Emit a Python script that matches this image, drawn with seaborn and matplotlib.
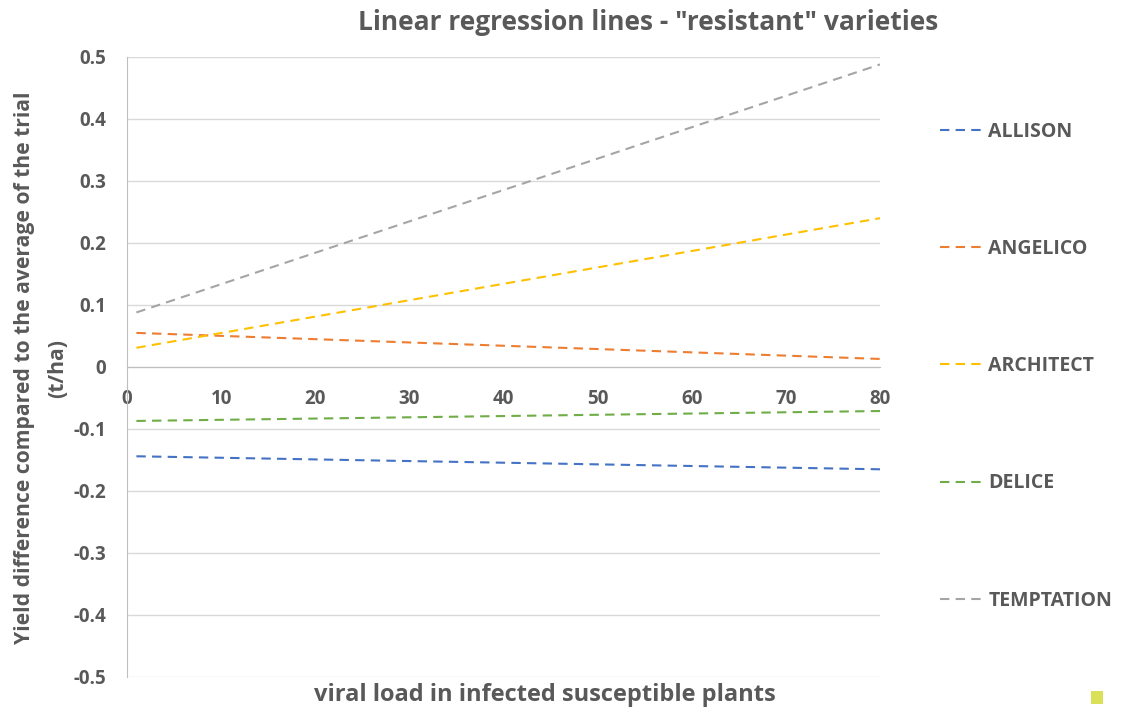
import pandas as pd
import seaborn as sns
import matplotlib.pyplot as plt
from matplotlib.patches import Rectangle

# regression line endpoints
x_range = [1, 80]
varieties = ['ALLISON', 'ANGELICO', 'ARCHITECT', 'DELICE', 'TEMPTATION']
y_start = [-0.144, 0.055, 0.031, -0.087, 0.088]
y_end = [-0.165, 0.013, 0.240, -0.071, 0.488]
colors = ['#4472C4', '#ED7D31', '#FFC000', '#70AD47', '#A5A5A5']

rows = []
for name, y0, y1 in zip(varieties, y_start, y_end):
    rows.append({'Variety': name, 'x': x_range[0], 'y': y0})
    rows.append({'Variety': name, 'x': x_range[1], 'y': y1})
df = pd.DataFrame(rows)

sns.set_style("white")
plt.rcParams['font.family'] = ['Open Sans', 'DejaVu Sans']
text_grey = '#595959'
axis_grey = '#BFBFBF'
grid_grey = '#D9D9D9'

W, H = 1122, 710
fig = plt.figure(figsize=(W / 100, H / 100), dpi=100)
fig.patch.set_facecolor('white')
ax = fig.add_axes([127 / W, 1 - 677 / H, 753 / W, 620 / H])

sns.lineplot(data=df, x='x', y='y', hue='Variety', style='Variety', hue_order=varieties,
             palette=colors, dashes={v: (4.5, 3) for v in varieties}, linewidth=1.5, ax=ax)

ax.set_xlim(0, 80)
ax.set_ylim(-0.5, 0.5)
ax.set_yticks([i / 10 for i in range(-5, 6)])
ax.set_yticklabels(['-0.5', '-0.4', '-0.3', '-0.2', '-0.1', '0', '0.1', '0.2', '0.3', '0.4', '0.5'])
ax.set_xticks(range(0, 81, 10))
ax.grid(axis='y', color=grid_grey, linewidth=1)
ax.set_axisbelow(True)

for s in ['top', 'right']:
    ax.spines[s].set_visible(False)
ax.spines['bottom'].set_position(('data', 0))
ax.spines['bottom'].set_color(axis_grey)
ax.spines['left'].set_color(axis_grey)

ax.tick_params(axis='y', length=7, color=axis_grey, labelsize=13.5, labelcolor=text_grey, pad=8)
ax.tick_params(axis='x', direction='inout', length=14, color=axis_grey, labelsize=13.5,
               labelcolor=text_grey, pad=9)
for lbl in ax.get_xticklabels() + ax.get_yticklabels():
    lbl.set_fontweight('bold')

ax.set_xlabel('')
ax.set_ylabel('')

fig.text(648 / W, 1 - 22 / H, 'Linear regression lines - "resistant" varieties', ha='center',
         va='center', fontsize=19, fontweight='bold', color=text_grey)
fig.text(25 / W, 1 - 368 / H, 'Yield difference compared to the average of the trial', rotation=90,
         ha='center', va='center', fontsize=15.2, fontweight='bold', color=text_grey)
fig.text(58 / W, 1 - 368 / H, '(t/ha)', rotation=90, ha='center', va='center', fontsize=15.2,
         fontweight='bold', color=text_grey)
fig.text(545 / W, 1 - 695 / H, 'viral load in infected susceptible plants', ha='center',
         va='center', fontsize=17, fontweight='bold', color=text_grey)

leg = ax.legend(loc='upper left', bbox_to_anchor=(1.069, 0.908), frameon=False, fontsize=14,
                labelspacing=5.0, handlelength=2.2, handletextpad=0.3, borderaxespad=0)
for t in leg.get_texts():
    t.set_color(text_grey)
    t.set_fontweight('bold')

fig.patches.append(Rectangle((1091 / W, 1 - 704 / H), 12 / W, 13 / H, transform=fig.transFigure,
                             facecolor='#D4DC3C', edgecolor='none', alpha=0.85))

fig.savefig('out.png', dpi=100)
